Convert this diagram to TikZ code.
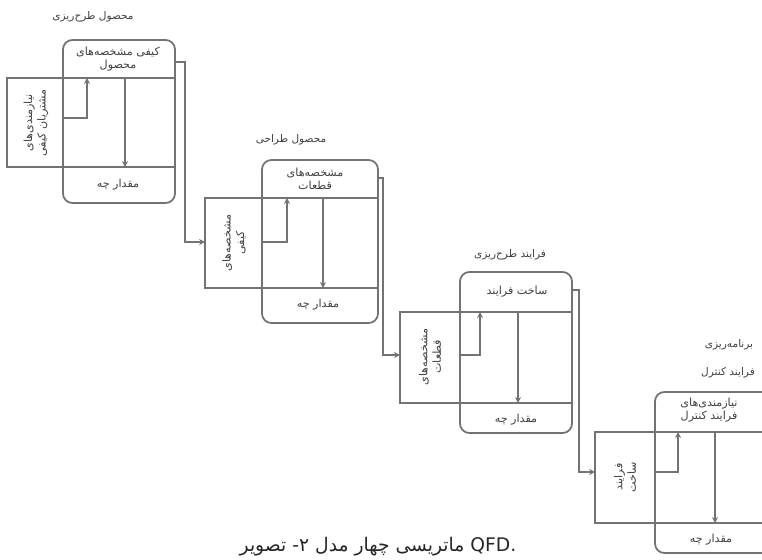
\documentclass[tikz,border=0pt]{standalone}
\usepackage{fontspec}
\newfontfamily\fa[Script=Arabic]{DejaVu Sans}
\newcommand\pw[1]{\mbox{#1}}
\usetikzlibrary{arrows.meta}
\tikzset{
  matline/.style={draw=black!55, line width=1.5pt},
  hqbox/.style={matline, rounded corners=8pt},
  flow/.style={matline, -{Stealth[length=5pt,width=5pt]}},
  matitle/.style={font=\fa\small, text=black!75},
  hqcell/.style={font=\fa\fontsize{9.5}{11.5}\selectfont, text=black!75, align=center},
  hqside/.style={hqcell, rotate=90},
}
\begin{document}
\begin{tikzpicture}[x=0.03cm, y=-0.03cm]
  \useasboundingbox (0,0) rectangle (762,559);

  % Product planning
  \begin{scope}[shift={(63,40)}]
    \node[matitle] (t1) at (30,-23) {\pw{طرح‌ریزی} \pw{محصول}};
    \draw[hqbox] (0,0) rectangle (112,163);
    \draw[matline] (-56,38) rectangle (112,127);
    \node[hqcell] (c1) at (55,19) {\pw{مشخصه‌های} \pw{کیفی}\\محصول};
    \node[hqside] (s1) at (-27,83) {نیازمندی‌های\\\pw{کیفی} \pw{مشتریان}};
    \node[hqcell] (q1) at (55,145) {\pw{چه} \pw{مقدار}};
    \coordinate (a1) at (0,78);
    \coordinate (u1) at (24,38);
    \coordinate (d1) at (62,38);
    \coordinate (e1) at (62,127);
    \draw[flow] (a1) -| (u1);
    \draw[flow] (d1) -- (e1);
    \coordinate (out1) at (112,22);
  \end{scope}

  % Product design
  \begin{scope}[shift={(262,160)}]
    \node[matitle] (t2) at (29,-20) {\pw{طراحی} \pw{محصول}};
    \draw[hqbox] (0,0) rectangle (116,163);
    \draw[matline] (-57,38) rectangle (116,128);
    \node[hqcell] (c2) at (53,19) {مشخصه‌های\\قطعات};
    \node[hqside] (s2) at (-28,83) {مشخصه‌های\\کیفی};
    \node[hqcell] (q2) at (56,145) {\pw{چه} \pw{مقدار}};
    \coordinate (in2) at (-57,82);
    \coordinate (a2) at (0,82);
    \coordinate (u2) at (25,38);
    \coordinate (d2) at (61,38);
    \coordinate (e2) at (61,128);
    \draw[flow] (a2) -| (u2);
    \draw[flow] (d2) -- (e2);
    \coordinate (out2) at (116,18);
  \end{scope}

  % Process planning
  \begin{scope}[shift={(460,272)}]
    \node[matitle] (t3) at (50,-17) {\pw{طرح‌ریزی} \pw{فرایند}};
    \draw[hqbox] (0,0) rectangle (112,161);
    \draw[matline] (-60,40) rectangle (112,131);
    \node[hqcell] (c3) at (57,20) {\pw{فرایند} \pw{ساخت}};
    \node[hqside] (s3) at (-30,85) {مشخصه‌های\\قطعات};
    \node[hqcell] (q3) at (56,148) {\pw{چه} \pw{مقدار}};
    \coordinate (in3) at (-60,83);
    \coordinate (a3) at (0,83);
    \coordinate (u3) at (20,40);
    \coordinate (d3) at (58,40);
    \coordinate (e3) at (58,131);
    \draw[flow] (a3) -| (u3);
    \draw[flow] (d3) -- (e3);
    \coordinate (out3) at (112,18);
  \end{scope}

  % Process control planning
  \begin{scope}[shift={(655,392)}]
    \node[matitle] (t4a) at (74,-47) {برنامه‌ریزی};
    \node[matitle] (t4b) at (73,-19) {\pw{کنترل} \pw{فرایند}};
    \draw[hqbox] (0,0) rectangle (120,161);
    \draw[matline] (-60,40) rectangle (120,131);
    \node[hqcell] (c4) at (54,18) {نیازمندی‌های\\\pw{کنترل} \pw{فرایند}};
    \node[hqside] (s4) at (-30,85) {فرایند\\ساخت};
    \node[hqcell] (q4) at (56,148) {\pw{چه} \pw{مقدار}};
    \coordinate (in4) at (-60,80);
    \coordinate (a4) at (0,80);
    \coordinate (u4) at (23,40);
    \coordinate (d4) at (60,40);
    \coordinate (e4) at (60,131);
    \draw[flow] (a4) -| (u4);
    \draw[flow] (d4) -- (e4);
  \end{scope}

  % links between the matrices
  \draw[flow] (out1) -- ++(10,0) |- (in2);
  \draw[flow] (out2) -- ++(5,0) |- (in3);
  \draw[flow] (out3) -- ++(7,0) |- (in4);

  \node[font=\fa\fontsize{16}{19}\selectfont, text=black!85] (cap) at (378,547)
    {\pw{تصویر} \pw{۲-} \pw{مدل} \pw{چهار} \pw{ماتریسی} QFD.};
\end{tikzpicture}
\end{document}
